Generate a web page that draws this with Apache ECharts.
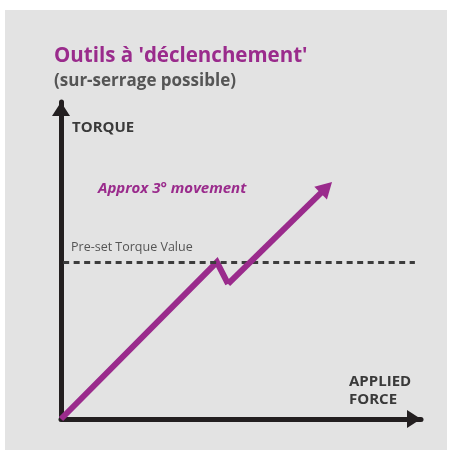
<!DOCTYPE html>
<html><head><meta charset="utf-8">
<script src="https://cdn.jsdelivr.net/npm/echarts@6/dist/echarts.min.js"></script>
<style>html,body{margin:0;padding:0;background:#fff}#c{width:450px;height:450px}</style>
</head><body><div id="c"></div>
<script>
// Data (axis units 0-100, arbitrary)
const titleText = "Outils à 'déclenchement'";
const subTitleText = "(sur-serrage possible)";
const yAxisName = "TORQUE";
const xAxisName = "APPLIED\nFORCE";
const presetLabel = "Pre-set Torque Value";
const movementLabel = "Approx 3° movement";
const presetTorque = 49.5;
const presetRange = [0.6, 98.3];
const forceValues = [0, 43.3, 46.4, 73.7];
const torqueValues = [0, 49.5, 42.6, 73.0];

const purple = '#9a2b8c';
const axisColor = '#231f20';

const pts = forceValues.map((x, i) => [x, torqueValues[i]]);
const chart = echarts.init(document.getElementById('c'), null, {renderer: 'canvas'});
chart.setOption({
  backgroundColor: '#ffffff',
  animation: false,
  title: {
    text: titleText,
    subtext: subTitleText,
    left: 49, top: 41,
    itemGap: 6,
    textStyle: {color: purple, fontFamily: 'Open Sans', fontWeight: 'bold', fontSize: 20.5},
    subtextStyle: {color: '#555555', fontFamily: 'Open Sans', fontWeight: 'bold', fontSize: 17}
  },
  grid: {left: 61, right: 29, top: 102, bottom: 31},
  xAxis: {
    type: 'value', min: 0, max: 100,
    axisLine: {show: true, symbol: ['none', 'triangle'], symbolSize: [18, 14], symbolOffset: [0, -7], lineStyle: {color: axisColor, width: 5}},
    axisTick: {show: false}, axisLabel: {show: false}, splitLine: {show: false}
  },
  yAxis: {
    type: 'value', min: 0, max: 100,
    axisLine: {show: true, symbol: ['none', 'triangle'], symbolSize: [18, 14], symbolOffset: [0, -7], lineStyle: {color: axisColor, width: 5}},
    axisTick: {show: false}, axisLabel: {show: false}, splitLine: {show: false}
  },
  graphic: [
    {type: 'rect', z: -10, shape: {x: 5, y: 10, width: 442, height: 440}, style: {fill: '#e3e3e3'}},
    {type: 'text', left: 72, top: 120, style: {text: yAxisName, fill: '#3a3a3a', font: 'bold 15px "Open Sans"'}},
    {type: 'text', left: 349, top: 373, style: {text: xAxisName, fill: '#3a3a3a', font: 'bold 15px "Open Sans"', lineHeight: 18}},
    {type: 'text', left: 98, top: 181, style: {text: movementLabel, fill: purple, font: 'italic bold 15px "Open Sans"'}},
    {type: 'text', left: 71, top: 241, style: {text: presetLabel, fill: '#555555', font: '12.5px "Open Sans"'}}
  ],
  series: [
    {
      type: 'line', data: pts.slice(0, 3), symbol: 'none', z: 3,
      lineStyle: {color: purple, width: 6, join: 'miter'},
      markLine: {
        silent: true, symbol: ['none', 'none'], label: {show: false},
        lineStyle: {color: '#3c3c3c', width: 3, type: [6, 4.5]},
        data: [[{coord: [presetRange[0], presetTorque]}, {coord: [presetRange[1], presetTorque]}]]
      }
    },
    {
      type: 'line', data: [], z: 4,
      markLine: {
        silent: true, symbol: ['none', 'triangle'], symbolSize: [18, 16], label: {show: false},
        lineStyle: {color: purple, width: 6, type: 'solid'},
        data: [[{coord: pts[2]}, {coord: pts[3]}]]
      }
    }
  ]
});
</script></body></html>
